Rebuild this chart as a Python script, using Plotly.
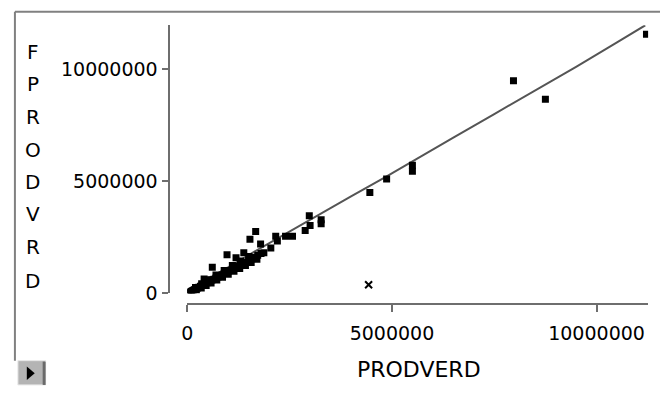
import plotly.graph_objects as go

W, H = 660, 394

# ---- data (values in millions, scaled below) ----
prodverd_m = [0.03, 0.06, 0.09, 0.12, 0.15, 0.18, 0.21, 0.25, 0.28, 0.32, 0.36, 0.40,
              0.44, 0.48, 0.52, 0.56, 0.60, 0.65, 0.70, 0.75, 0.80, 0.85, 0.90, 0.95,
              1.00, 1.05, 1.10, 1.15, 1.20, 1.25, 1.30, 1.36, 1.42, 1.50, 1.58, 1.65,
              1.72, 1.80, 0.20, 0.35, 0.50, 0.70, 0.90, 1.10, 1.30, 1.50,
              0.10, 0.22, 0.34, 0.46, 0.58, 0.72, 0.86, 1.00, 1.14, 1.28, 1.42, 1.56, 1.70,
              0.41, 0.61, 0.97, 1.19, 1.38, 1.53, 1.67, 1.79,
              1.87, 2.04, 2.16, 2.20, 2.40, 2.57, 2.88, 2.98, 3.00, 3.27, 3.27,
              4.46, 4.87, 5.50, 5.50, 7.97, 8.75, 11.22]
fprodvrd_m = [0.02, 0.05, 0.08, 0.11, 0.14, 0.17, 0.20, 0.24, 0.27, 0.31, 0.35, 0.39,
              0.43, 0.47, 0.51, 0.55, 0.59, 0.63, 0.68, 0.73, 0.78, 0.83, 0.88, 0.93,
              0.98, 1.03, 1.08, 1.13, 1.17, 1.22, 1.27, 1.33, 1.39, 1.46, 1.54, 1.61,
              1.70, 1.78, 0.26, 0.42, 0.60, 0.82, 1.02, 1.24, 1.44, 1.64,
              0.02, 0.13, 0.24, 0.35, 0.46, 0.59, 0.72, 0.85, 0.98, 1.11, 1.24, 1.37, 1.52,
              0.64, 1.16, 1.72, 1.59, 1.81, 2.41, 2.76, 2.20,
              1.81, 2.02, 2.55, 2.33, 2.55, 2.55, 2.80, 3.46, 3.02, 3.28, 3.10,
              4.50, 5.10, 5.71, 5.45, 9.48, 8.66, 11.56]
outlier_x_m = [4.43]
outlier_y_m = [0.38]
fit_x_m = [0.0, 0.5, 1.0, 1.6, 2.2, 3.1, 4.0, 4.85, 5.5, 6.5, 7.5, 8.5, 9.5, 10.5, 11.19]
fit_y_m = [0.10, 0.62, 1.15, 1.82, 2.45, 3.40, 4.32, 5.19, 5.89, 6.95, 8.00, 9.05, 10.10, 11.20, 11.96]
tick_vals = [0, 5000000, 10000000]
tick_text = ["0", "5000000", "10000000"]
y_title = "FPRODVRD"
x_title = "PRODVERD"

M = 1e6
X = [v * M for v in prodverd_m]
Y = [v * M for v in fprodvrd_m]

def px(x):
    return x / W

def py(y):
    return 1 - y / H

fig = go.Figure()
fig.add_trace(go.Scatter(x=[v * M for v in fit_x_m], y=[v * M for v in fit_y_m],
                         mode="lines", line=dict(color="#555555", width=2),
                         hoverinfo="skip"))
fig.add_trace(go.Scatter(x=X, y=Y, mode="markers",
                         marker=dict(symbol="square", size=7, color="black",
                                     line=dict(width=0))))
fig.add_trace(go.Scatter(x=[v * M for v in outlier_x_m], y=[v * M for v in outlier_y_m],
                         mode="markers",
                         marker=dict(symbol="x-thin", size=7,
                                     line=dict(width=2, color="black"))))

font_ticks = dict(family="DejaVu Sans", size=19, color="black")

fig.update_layout(
    width=W, height=H, margin=dict(l=0, r=0, t=0, b=0),
    paper_bgcolor="white", plot_bgcolor="white", showlegend=False,
    xaxis=dict(domain=[px(183), px(648)], range=[0, 11.26e6],
               anchor="free", position=py(313),
               showline=True, linecolor="#6e6e6e", linewidth=2,
               showgrid=False, zeroline=False,
               ticks="outside", ticklen=7, tickcolor="#6e6e6e", tickwidth=2,
               tickvals=tick_vals, ticktext=tick_text, tickfont=font_ticks,
               ticklabelstandoff=5),
    yaxis=dict(domain=[py(301.7), py(26)], range=[0, 11.96e6],
               anchor="free", position=px(164),
               showline=True, linecolor="#6e6e6e", linewidth=2,
               showgrid=False, zeroline=False,
               ticks="outside", ticklen=6, tickcolor="#6e6e6e", tickwidth=2,
               tickvals=tick_vals, ticktext=tick_text, tickfont=font_ticks,
               ticklabelstandoff=0),
)

# vertical stacked y-axis title
letter_y = [53, 86, 120, 154, 187, 220, 254, 289]
for ch, yy in zip(y_title, letter_y):
    fig.add_annotation(x=px(27), y=py(yy), xref="paper", yref="paper",
                       text=ch, showarrow=False, xanchor="center", yanchor="middle",
                       font=dict(family="DejaVu Sans", size=20, color="black"))

fig.add_annotation(x=px(417), y=py(380), xref="paper", yref="paper",
                   text=x_title, showarrow=False, xanchor="center", yanchor="middle",
                   font=dict(family="DejaVu Sans", size=22, color="black"))

# frame (top and left edges only)
fig.add_shape(type="line", xref="paper", yref="paper",
              x0=px(9), y0=py(12), x1=1, y1=py(12),
              line=dict(color="#808080", width=2))
fig.add_shape(type="line", xref="paper", yref="paper",
              x0=px(9), y0=py(12), x1=px(9), y1=py(371),
              line=dict(color="#808080", width=2))
# small button
fig.add_shape(type="rect", xref="paper", yref="paper",
              x0=px(12), y0=py(371), x1=px(40), y1=py(396),
              line=dict(color="#e8e8e8", width=1), fillcolor="#b4b4b4")
fig.add_shape(type="rect", xref="paper", yref="paper",
              x0=px(37), y0=py(372), x1=px(40), y1=py(396),
              line=dict(width=0), fillcolor="#6a6a6a")
fig.add_shape(type="path", xref="paper", yref="paper",
              path=f"M {px(21)} {py(377)} L {px(29)} {py(384)} L {px(21)} {py(391)} Z",
              line=dict(width=0), fillcolor="black")

fig.write_html("out.html")
